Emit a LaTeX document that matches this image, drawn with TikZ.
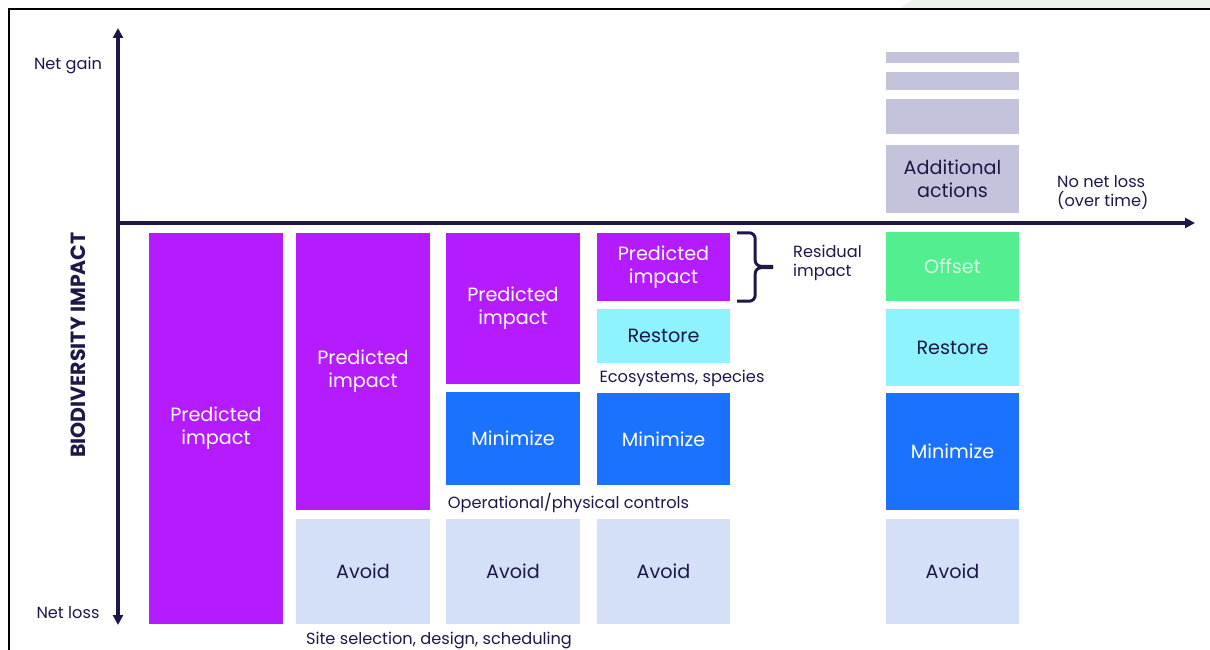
\documentclass[tikz,border=0pt]{standalone}
\usepackage{fontspec}
\setmainfont{Poppins}
\usetikzlibrary{arrows.meta}

\definecolor{navy}{HTML}{1D1848}
\definecolor{violet}{HTML}{B41CFF}
\definecolor{paleblue}{HTML}{D3E0F8}
\definecolor{midblue}{HTML}{1A72FF}
\definecolor{cyanish}{HTML}{8EF3FF}
\definecolor{mint}{HTML}{52EE8F}
\definecolor{lavender}{HTML}{C4C3DC}
\definecolor{leaf}{HTML}{EEF4EA}

\tikzset{
  box/.style={minimum width=134pt, inner sep=0pt, align=center, text=navy,
    font=\fontsize{19.2}{23}\selectfont},
  pred/.style={box, fill=violet, text=white},
  avoid/.style={box, fill=paleblue},
  mini/.style={box, fill=midblue, text=white},
  rest/.style={box, fill=cyanish},
  offs/.style={box, fill=mint, text=white!80!mint},
  addl/.style={box, fill=lavender},
  note/.style={text=navy, inner sep=0pt, yshift=-2.5pt, font=\fontsize{16.2}{19}\selectfont},
  axis/.style={navy, line width=3.5pt},
}

\begin{document}
\begin{tikzpicture}[x=1pt, y=-1pt, >={Triangle[length=10pt,width=10pt]}]
\useasboundingbox (0,0) rectangle (1210,650);
% screenshot frame
\fill[leaf] (912,0) -- (1210,0) -- (1210,8) -- (900,8) -- cycle;
\draw[line width=2pt] (9,650) -- (9,9) -- (1210,9);
%
\coordinate (top) at (118,28);
\coordinate (bottom) at (118,625);
\coordinate (origin) at (118,223);
\coordinate (right) at (1195,223);
\draw[axis, <->] (top) -- (bottom);
\draw[axis, ->] (origin) -- (right);
%
\draw (68,63) node[note] (gain) {Net gain};
\draw (68,610) node[note] (loss) {Net loss};
\draw (78,345) node[text=navy, inner sep=0pt, rotate=90, font=\fontsize{20.5}{22}\selectfont\bfseries] (ylabel) {BIODIVERSITY IMPACT};
\draw (1057,190) node[note, anchor=west, align=left] (nnl) {No net loss\\(over time)};
%
% first column
\draw (216,428.5) node[pred, minimum height=391pt] (p1) {Predicted\\impact};
%
% second column
\draw (363,371.5) node[pred, minimum height=277pt] (p2) {Predicted\\impact};
\draw (363,571.5) node[avoid, minimum height=105pt] (a2) {Avoid};
%
% third column
\draw (513,308.5) node[pred, minimum height=151pt] (p3) {Predicted\\impact};
\draw (513,438.5) node[mini, minimum height=93pt] (m3) {Minimize};
\draw (513,571.5) node[avoid, minimum height=105pt] (a3) {Avoid};
%
% fourth column
\draw (663.5,267) node[pred, minimum width=133pt, minimum height=68pt] (p4) {Predicted\\impact};
\draw (663.5,336) node[rest, minimum width=133pt, minimum height=54pt] (r4) {Restore};
\draw (663.5,439) node[mini, minimum width=133pt, minimum height=92pt] (m4) {Minimize};
\draw (663.5,571.5) node[avoid, minimum width=133pt, minimum height=105pt] (a4) {Avoid};
\draw[navy, line width=3pt, rounded corners=6pt]
  ([xshift=7pt]p4.north east) -- ++(18,0) -- ++(0,33.5) -- ++(18,0);
\draw[navy, line width=3pt, rounded corners=6pt]
  ([xshift=7pt]p4.south east) -- ++(18,0) -- ++(0,-33.5) -- ++(18,0);
\draw (793,260.5) node[note, anchor=west, align=left] (resid) {Residual\\impact};
%
\draw (682,376) node[note] (eco) {Ecosystems, species};
\draw (568.5,500) node[note] (ops) {Operational/physical controls};
\draw (439,638) node[note] (site) {Site selection, design, scheduling};
%
% fifth column
\draw (952.5,57.5) node[addl, minimum width=133pt, minimum height=11pt] (s1) {};
\draw (952.5,81) node[addl, minimum width=133pt, minimum height=18pt] (s2) {};
\draw (952.5,116.5) node[addl, minimum width=133pt, minimum height=35pt] (s3) {};
\draw (952.5,179) node[addl, minimum width=133pt, minimum height=68pt] (add) {Additional\\actions};
\draw (952.5,266.5) node[offs, minimum width=133pt, minimum height=69pt] (o5) {Offset};
\draw (952.5,347.5) node[rest, minimum width=133pt, minimum height=77pt] (r5) {Restore};
\draw (952.5,451.5) node[mini, minimum width=133pt, minimum height=117pt] (m5) {Minimize};
\draw (952.5,571.5) node[avoid, minimum width=133pt, minimum height=105pt] (a5) {Avoid};
\end{tikzpicture}
\end{document}
